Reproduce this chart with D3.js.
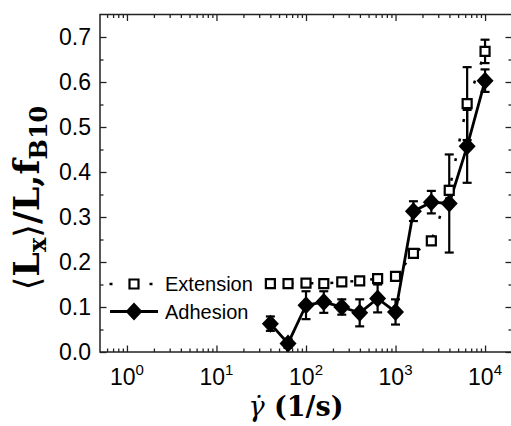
<!DOCTYPE html>
<html>
<head>
<meta charset="utf-8">
<script src="https://cdn.jsdelivr.net/npm/d3@7"></script>
<style>
  body { margin: 0; background: #fff; }
  svg { display: block; }
</style>
</head>
<body>
<div id="chart"></div>
<script>
// shear rates (1/s)
const rates = [40, 63, 100, 158, 251, 398, 631, 1000, 1585, 2512, 3981, 6310, 10000];
// Extension series
const extension = [0.152, 0.152, 0.153, 0.152, 0.156, 0.158, 0.163, 0.168, 0.219, 0.247, 0.359, 0.552, 0.668];
const extensionErr = [0, 0, 0, 0, 0, 0, 0, 0, 0, 0, 0.01, 0.081, 0.026];
// Adhesion series
const adhesion = [0.063, 0.019, 0.104, 0.111, 0.100, 0.087, 0.119, 0.089, 0.313, 0.333, 0.330, 0.457, 0.603];
const adhesionErr = [0.016, 0.01, 0.031, 0.024, 0.017, 0.03, 0.031, 0.028, 0.022, 0.025, 0.109, 0.081, 0.025];
// tick labels
const xTickExp = [0, 1, 2, 3, 4];
const yTicks = [0, 0.1, 0.2, 0.3, 0.4, 0.5, 0.6, 0.7];
const legendNames = ['Extension', 'Adhesion'];

const w = 511;
const h = 426;

const xScale = d3.scaleLog().domain([0.5, 20000]).range([100, 512]);
const yScale = d3.scaleLinear().domain([0, 0.75]).range([352, 14.5]);

const svg = d3.select('#chart').append('svg')
  .attr('width', w)
  .attr('height', h);

// minor ticks on the log axis
const xMinor = [];
for (let e = -1; e <= 4; e++) {
  for (let m = 2; m <= 9; m++) {
    const v = m * Math.pow(10, e);
    if (v > 0.5 && v < 20000) xMinor.push(v);
  }
}
const xMajor = xTickExp.map(e => Math.pow(10, e));
const yMinor = d3.range(0.05, 0.75, 0.1);

const x0 = xScale.range()[0], x1 = xScale.range()[1];
const y0 = yScale.range()[0], y1 = yScale.range()[1];

function styleAxis(g) {
  g.select('.domain').remove();
  g.selectAll('line').attr('stroke', '#222').attr('stroke-width', 1.3);
}

// bottom / top ticks (pointing inward)
svg.append('g').attr('transform', 'translate(0,' + y0 + ')')
  .call(d3.axisBottom(xScale).tickValues(xMajor).tickSize(-6.5).tickFormat(''))
  .call(styleAxis);
svg.append('g').attr('transform', 'translate(0,' + y0 + ')')
  .call(d3.axisBottom(xScale).tickValues(xMinor).tickSize(-3.5).tickFormat(''))
  .call(styleAxis);
svg.append('g').attr('transform', 'translate(0,' + y1 + ')')
  .call(d3.axisTop(xScale).tickValues(xMajor).tickSize(-6.5).tickFormat(''))
  .call(styleAxis);
svg.append('g').attr('transform', 'translate(0,' + y1 + ')')
  .call(d3.axisTop(xScale).tickValues(xMinor).tickSize(-3.5).tickFormat(''))
  .call(styleAxis);

// left / right ticks
svg.append('g').attr('transform', 'translate(' + x0 + ',0)')
  .call(d3.axisLeft(yScale).tickValues(yTicks).tickSize(-6.5).tickFormat(''))
  .call(styleAxis);
svg.append('g').attr('transform', 'translate(' + x0 + ',0)')
  .call(d3.axisLeft(yScale).tickValues(yMinor).tickSize(-3.5).tickFormat(''))
  .call(styleAxis);
svg.append('g').attr('transform', 'translate(' + x1 + ',0)')
  .call(d3.axisRight(yScale).tickValues(yTicks).tickSize(-6.5).tickFormat(''))
  .call(styleAxis);
svg.append('g').attr('transform', 'translate(' + x1 + ',0)')
  .call(d3.axisRight(yScale).tickValues(yMinor).tickSize(-3.5).tickFormat(''))
  .call(styleAxis);

// frame
svg.append('rect')
  .attr('x', x0).attr('y', y1)
  .attr('width', x1 - x0).attr('height', y0 - y1)
  .attr('fill', 'none').attr('stroke', '#222').attr('stroke-width', 1.5);

// y tick labels
svg.append('g').selectAll('text')
  .data(yTicks)
  .enter().append('text')
  .attr('x', 91)
  .attr('y', d => yScale(d) + 8)
  .attr('text-anchor', 'end')
  .attr('font-family', 'Liberation Sans, Arial, sans-serif')
  .attr('font-size', 23)
  .text(d => d.toFixed(1));

// x tick labels 10^n
const xl = svg.append('g').selectAll('text')
  .data(xTickExp)
  .enter().append('text')
  .attr('x', d => xScale(Math.pow(10, d)))
  .attr('y', 385)
  .attr('text-anchor', 'middle')
  .attr('font-family', 'Liberation Sans, Arial, sans-serif')
  .attr('font-size', 23);
xl.append('tspan').text('10');
xl.append('tspan').attr('dy', -10).attr('font-size', 15).text(d => d);

// x title
const xt = svg.append('text')
  .attr('x', 296).attr('y', 416)
  .attr('text-anchor', 'middle')
  .attr('font-family', 'DejaVu Serif, serif')
  .attr('font-size', 27);
xt.append('tspan').attr('font-style', 'italic').text('\u03B3\u0307');
xt.append('tspan').attr('font-weight', 'bold').text(' (1/s)');

// y title
const yt = svg.append('text')
  .attr('transform', 'translate(39,198) rotate(-90)')
  .attr('text-anchor', 'middle')
  .attr('font-family', 'DejaVu Serif, serif')
  .attr('font-size', 35)
  .attr('font-weight', 'bold');
yt.append('tspan').attr('font-weight', 'normal').text('\u27E8');
yt.append('tspan').text('L');
yt.append('tspan').attr('font-size', 24).attr('dy', 7).text('x');
yt.append('tspan').attr('font-weight', 'normal').attr('dy', -7).text('\u27E9');
yt.append('tspan').text('/L,f');
yt.append('tspan').attr('font-size', 24).attr('dy', 8).text('B10');

// lines
const seriesLine = d3.line()
  .x((d, i) => xScale(rates[i]))
  .y(d => yScale(d));

svg.append('path')
  .datum(extension)
  .attr('d', seriesLine)
  .attr('fill', 'none')
  .attr('stroke', '#000')
  .attr('stroke-width', 2.5)
  .attr('stroke-dasharray', '3 17');

svg.append('path')
  .datum(adhesion)
  .attr('d', seriesLine)
  .attr('fill', 'none')
  .attr('stroke', '#000')
  .attr('stroke-width', 2.8);

// error bars
function errorBars(values, errs) {
  const g = svg.append('g').attr('stroke', '#000').attr('stroke-width', 2.2);
  values.forEach((v, i) => {
    if (!errs[i]) return;
    const cx = xScale(rates[i]);
    const top = yScale(v + errs[i]);
    const bot = yScale(v - errs[i]);
    g.append('line').attr('x1', cx).attr('x2', cx).attr('y1', top).attr('y2', bot);
    g.append('line').attr('x1', cx - 4.5).attr('x2', cx + 4.5).attr('y1', top).attr('y2', top);
    g.append('line').attr('x1', cx - 4.5).attr('x2', cx + 4.5).attr('y1', bot).attr('y2', bot);
  });
}
errorBars(extension, extensionErr);
errorBars(adhesion, adhesionErr);

// markers
function square(cx, cy) {
  return 'M' + (cx - 4.5) + ',' + (cy - 4.5) + 'h9v9h-9Z';
}
function diamond(cx, cy) {
  return 'M' + cx + ',' + (cy - 9) + 'L' + (cx + 8.5) + ',' + cy +
    'L' + cx + ',' + (cy + 9) + 'L' + (cx - 8.5) + ',' + cy + 'Z';
}

svg.append('g').selectAll('path')
  .data(extension)
  .enter().append('path')
  .attr('d', (d, i) => square(xScale(rates[i]), yScale(d)))
  .attr('fill', '#fff')
  .attr('stroke', '#000')
  .attr('stroke-width', 2.2);

svg.append('g').selectAll('path')
  .data(adhesion)
  .enter().append('path')
  .attr('d', (d, i) => diamond(xScale(rates[i]), yScale(d)))
  .attr('fill', '#000');

// legend
const legY = [284, 311.5];
svg.append('line')
  .attr('x1', 109).attr('x2', 160).attr('y1', legY[0]).attr('y2', legY[0])
  .attr('stroke', '#000').attr('stroke-width', 2.5)
  .attr('stroke-dasharray', '3 17').attr('stroke-dashoffset', -0.5);
svg.append('path').attr('d', square(134, legY[0]))
  .attr('fill', '#fff').attr('stroke', '#000').attr('stroke-width', 2.2);
svg.append('line')
  .attr('x1', 110).attr('x2', 158).attr('y1', legY[1]).attr('y2', legY[1])
  .attr('stroke', '#000').attr('stroke-width', 2.8);
svg.append('path').attr('d', diamond(134, legY[1])).attr('fill', '#000');

svg.append('g').selectAll('text')
  .data(legendNames)
  .enter().append('text')
  .attr('x', 165)
  .attr('y', (d, i) => legY[i] + 7)
  .attr('font-family', 'Liberation Sans, Arial, sans-serif')
  .attr('font-size', 20)
  .text(d => d);
</script>
</body>
</html>
